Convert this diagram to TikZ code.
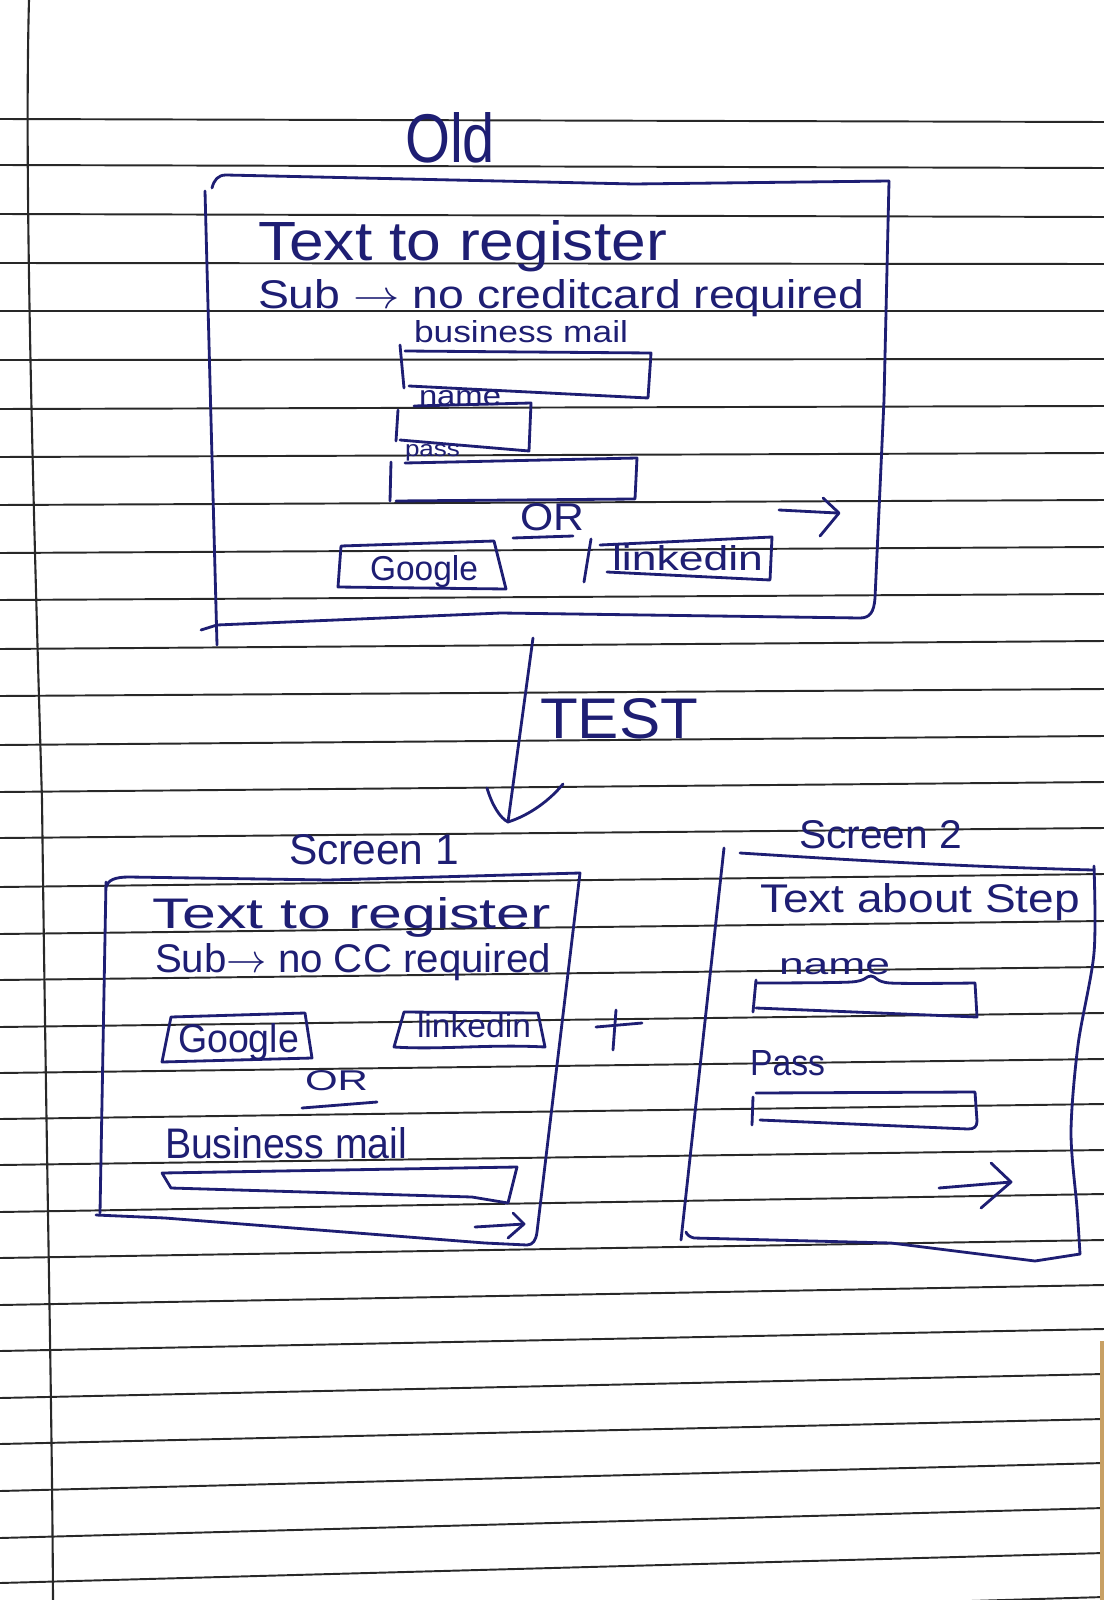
\documentclass[tikz,border=0pt]{standalone}
\usepackage{fontspec}
\setmainfont{Liberation Sans}
\usepackage{graphicx}
\newlength\hwu
\setlength\hwu{0.01cm}
\newcommand\hwtext[3]{\resizebox{#1\hwu}{#2\hwu}{#3}}
\definecolor{inkc}{RGB}{30,30,115}
\definecolor{rulec}{RGB}{40,40,40}
\definecolor{edgec}{RGB}{200,160,100}
\tikzset{
  ink/.style={draw=inkc, line width=0.8pt, line cap=round, line join=round},
  rule/.style={draw=rulec, line width=0.55pt},
  hw/.style={inner sep=0pt, outer sep=0pt, anchor=base west, text=inkc},
}
\begin{document}
\begin{tikzpicture}[x=0.01cm,y=-0.01cm]
\useasboundingbox (0,0) rectangle (1104,1600);
\fill[white] (0,0) rectangle (1104,1600);
% ---- ruled paper ----
\begin{scope}
\clip (0,0) rectangle (1104,1600);
\foreach \l/\r in {119/122,165/168,214/217,263/264,311/311,360/359,409/406,457/453,505/500,553/547,600/594,649/641,696/689,745/736,792/782,838/828,887/874,934/921,980/967,1027/1013,1073/1059,1119/1104,1165/1150,1212/1194,1258/1240,1305/1285,1351/1329,1398/1374,1444/1419,1491/1463,1538/1508,1583/1553,1630/1597}
  \draw[rule] (0,\l) -- (1104,\r);
\draw[rule, line width=0.6pt] (29,0) .. controls (25,150) and (30,400) .. (42,800) .. controls (47,1200) and (52,1400) .. (53,1600);
\draw[draw=edgec, line width=1pt] (1102,1341) -- (1102,1600);
\end{scope}

% ---- Old ----
\node[hw] (oldTitle) at (405,163) {\hwtext{90}{50}{Old}};
\draw[ink] (212,188) .. controls (214,180) and (218,175) .. (226,175) -- (634,184) -- (889,181);
\draw[ink] (889,181) -- (884,400) -- (875,598) .. controls (874,612) and (870,618) .. (860,618) -- (501,613) -- (217,625) -- (201,630);
\draw[ink] (205,191) -- (211,420) -- (217,645);
\node[hw] (oldText) at (258,260) {\hwtext{409}{40}{Text to register}};
\node[hw] (oldSub) at (258,308) {\hwtext{606}{29}{Sub $\rightarrow$ no creditcard required}};
\node[hw] (oldMail) at (414,342) {\hwtext{214}{22}{business mail}};
\draw[ink] (400,345) -- (404,388);
\draw[ink] (405,351) -- (651,353) -- (648,398) -- (409,386);
\node[hw] (oldName) at (419,406) {\hwtext{82}{15}{name}};
\draw[ink] (414,406) -- (531,403) -- (529,451) -- (400,440);
\draw[ink] (398,410) -- (396,441);
\node[hw] (oldPass) at (405,456) {\hwtext{55}{12}{pass}};
\draw[ink] (405,463) -- (637,458) -- (635,499) -- (396,501);
\draw[ink] (391,462) -- (390,501);
\node[hw] (oldOr) at (520,530) {\hwtext{64}{27}{OR}};
\draw[ink] (513,538) -- (573,536);
\draw[ink] (779,510) -- (837,513);
\draw[ink] (823,498) -- (839,513) -- (820,536);
\draw[ink] (341,546) -- (494,541) -- (506,589) -- (338,587) -- cycle;
\node[hw] (oldGoogle) at (370,580) {\hwtext{108}{25}{Google}};
\draw[ink] (591,539) -- (584,582);
\draw[ink] (600,545) -- (772,537) -- (770,580) -- (607,572);
\node[hw] (oldLinked) at (612,570) {\hwtext{151}{25}{linkedin}};

% ---- TEST arrow ----
\coordinate (testTop) at (533,638);
\coordinate (testTip) at (508,822);
\coordinate (headL) at (487,788);
\coordinate (headR) at (563,784);
\draw[ink] (testTop) -- (testTip);
\draw[ink] (headL) .. controls (492,805) and (500,818) .. (testTip) .. controls (530,815) and (550,800) .. (headR);
\node[hw] (testLabel) at (540,738) {\hwtext{158}{40}{TEST}};

% ---- Screen 1 ----
\node[hw] (s1Title) at (289,864) {\hwtext{170}{30}{Screen 1}};
\draw[ink] (106,887) .. controls (108,880) and (115,877) .. (129,877) -- (328,880) -- (580,873) -- (537,1232) .. controls (536,1240) and (533,1245) .. (527,1245) -- (485,1243) -- (165,1218) -- (96,1215);
\draw[ink] (106,882) -- (100,1213);
\node[hw] (s1Text) at (152,928) {\hwtext{399}{31}{Text to register}};
\node[hw] (s1Sub) at (155,972) {\hwtext{396}{29}{Sub$\rightarrow$ no CC required}};
\draw[ink] (171,1017) -- (305,1013) -- (312,1058) -- (162,1062) -- cycle;
\node[hw] (s1Google) at (178,1052) {\hwtext{121}{29}{Google}};
\draw[ink] (404,1012) -- (538,1013) -- (545,1047) .. controls (490,1044) and (440,1050) .. (394,1047) -- cycle;
\node[hw] (s1Linked) at (417,1037) {\hwtext{114}{24}{linkedin}};
\node[hw] (s1Or) at (305,1090) {\hwtext{63}{20}{OR}};
\draw[ink] (302,1108) -- (377,1102);
\node[hw] (s1Mail) at (165,1158) {\hwtext{242}{31}{Business mail}};
\draw[ink] (162,1173) -- (517,1167) -- (508,1203) -- (472,1197) -- (171,1188) -- cycle;
\draw[ink] (475,1227) -- (524,1224);
\draw[ink] (513,1213) -- (524,1224) -- (508,1238);

% ---- plus ----
\draw[ink] (596,1027) -- (642,1023);
\draw[ink] (616,1010) -- (613,1050);

% ---- Screen 2 ----
\node[hw] (s2Title) at (799,848) {\hwtext{163}{28}{Screen 2}};
\draw[ink] (740,853) .. controls (820,858) and (940,866) .. (1093,870);
\draw[ink] plot[smooth] coordinates {(1094,866) (1094,953) (1078,1045) (1071,1132) (1077,1208) (1080,1254)};
\draw[ink] (1080,1254) -- (1035,1261) -- (891,1243) -- (694,1238) .. controls (690,1237) and (687,1235) .. (686,1232);
\draw[ink] (724,848) -- (681,1240);
\node[hw] (s2Text) at (760,912) {\hwtext{320}{29}{Text about Step}};
\node[hw] (s2Name) at (779,974) {\hwtext{111}{16}{name}};
\draw[ink] plot[smooth] coordinates {(756,983) (851,982) (871,976) (890,983) (975,983)};
\draw[ink] (975,983) -- (977,1017) -- (756,1008);
\draw[ink] (756,980) -- (753,1012);
\node[hw] (s2Pass) at (750,1075) {\hwtext{75}{25}{Pass}};
\draw[ink] (756,1093) -- (975,1092) -- (977,1121) .. controls (977,1127) and (974,1129) .. (968,1129) -- (760,1120);
\draw[ink] (753,1097) -- (752,1125);
\draw[ink] (939,1188) -- (1011,1182);
\draw[ink] (991,1163) -- (1011,1182) -- (981,1208);
\end{tikzpicture}
\end{document}
